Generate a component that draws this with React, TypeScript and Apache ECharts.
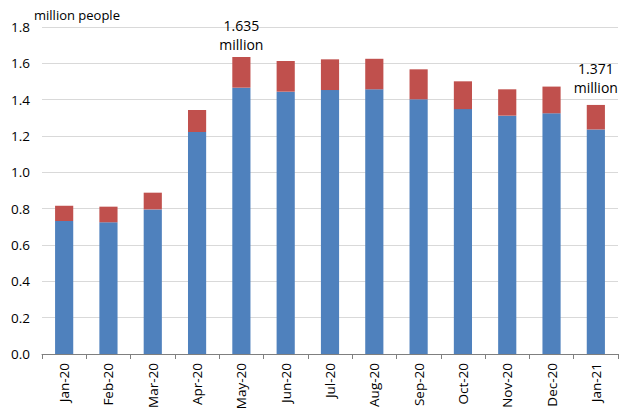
import React, { useEffect, useRef } from "react";
import * as echarts from "echarts";

const categories = ["Jan-20", "Feb-20", "Mar-20", "Apr-20", "May-20", "Jun-20", "Jul-20", "Aug-20", "Sep-20", "Oct-20", "Nov-20", "Dec-20", "Jan-21"];
const blueValues = [0.732, 0.725, 0.796, 1.222, 1.466, 1.444, 1.453, 1.457, 1.402, 1.348, 1.312, 1.325, 1.236];
const redValues = [0.084, 0.086, 0.092, 0.121, 0.169, 0.169, 0.169, 0.168, 0.165, 0.153, 0.145, 0.147, 0.135];
const annotations: Record<number, string> = { 4: "1.635\nmillion", 12: "1.371\nmillion" };
const yTicks = [0, 0.2, 0.4, 0.6, 0.8, 1.0, 1.2, 1.4, 1.6, 1.8];

const FONT = "'Open Sans', 'Noto Sans', sans-serif";

export default function App() {
  const ref = useRef<HTMLDivElement>(null);
  useEffect(() => {
    document.body.style.margin = "0";
    const chart = echarts.init(ref.current!, undefined, { renderer: "svg" });
    chart.setOption({
      animation: false,
      textStyle: { fontFamily: FONT },
      grid: { left: 42, right: 3, top: 27, bottom: 54, containLabel: false, outerBoundsMode: "none" },
      title: {
        text: "million people",
        left: 29,
        top: 3,
        textStyle: { fontSize: 13, fontWeight: "normal", color: "#000", fontFamily: FONT },
      },
      xAxis: {
        type: "category",
        data: categories,
        boundaryGap: true,
        axisLine: { show: true, lineStyle: { color: "#7f7f7f", width: 1 } },
        axisTick: { show: true, alignWithLabel: false, length: 5, lineStyle: { color: "#7f7f7f" } },
        axisLabel: { rotate: 90, fontSize: 13.5, color: "#000", margin: 9, fontFamily: FONT },
      },
      yAxis: {
        type: "value",
        min: yTicks[0],
        max: yTicks[yTicks.length - 1],
        interval: 0.2,
        axisLine: { show: false },
        axisTick: { show: false },
        splitLine: { show: true, lineStyle: { color: "#d9d9d9", width: 1 } },
        axisLabel: {
          fontSize: 13.5,
          color: "#000",
          margin: 12,
          fontFamily: FONT,
          formatter: (v: number) => v.toFixed(1),
        },
      },
      series: [
        {
          type: "bar",
          stack: "total",
          data: blueValues,
          barWidth: "41%",
          itemStyle: { color: "#4F81BD" },
        },
        {
          type: "bar",
          stack: "total",
          data: redValues.map((v, i) =>
            annotations[i]
              ? {
                  value: v,
                  label: {
                    show: true,
                    position: "top",
                    distance: i === 12 ? 8 : 3,
                    formatter: annotations[i],
                    fontSize: 14,
                    lineHeight: 19,
                    color: "#000",
                    fontFamily: FONT,
                  },
                }
              : v
          ),
          barWidth: "41%",
          itemStyle: { color: "#C0504D" },
        },
      ],
    });
    return () => chart.dispose();
  }, []);
  return <div ref={ref} style={{ width: 621, height: 408 }} />;
}
